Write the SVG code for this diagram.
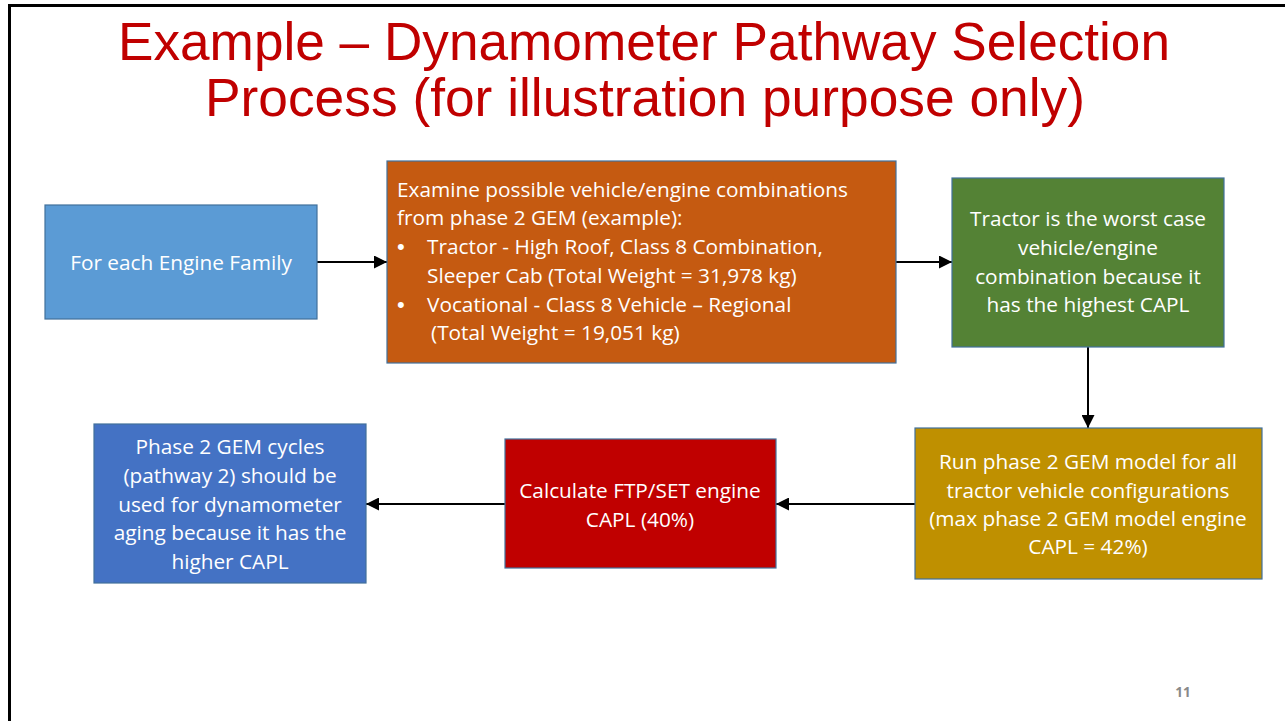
<svg xmlns="http://www.w3.org/2000/svg" width="1285" height="721" viewBox="0 0 1285 721">
<style>
.t{font-family:"Open Sans",Lato,"Liberation Sans",sans-serif;font-size:20.8px;fill:#fff}
.c{text-anchor:middle}
.b{font-family:"Liberation Sans",Arial,sans-serif;font-size:22px;fill:#fff}
.box{stroke:#41719C;stroke-width:1.2}
.title{font-family:"Liberation Sans",Arial,sans-serif;font-size:53px;fill:#C00000;text-anchor:middle}
.conn{stroke:#000;stroke-width:2;fill:none;marker-end:url(#ah)}
</style>
<defs>
<marker id="ah" viewBox="0 0 10 10" refX="10" refY="5" markerWidth="6.5" markerHeight="6.5" orient="auto" markerUnits="strokeWidth">
<path d="M0,0 L10,5 L0,10 z" fill="#000"/>
</marker>
</defs>
<rect x="0" y="0" width="1285" height="721" fill="#fff"/>
<g id="frame">
<line x1="8" y1="5.5" x2="1285" y2="5.5" stroke="#000" stroke-width="3"/>
<line x1="9.5" y1="5" x2="9.5" y2="721" stroke="#000" stroke-width="3"/>
</g>
<g id="title">
<text class="title" x="644" y="60" textLength="1052" lengthAdjust="spacingAndGlyphs">Example – Dynamometer Pathway Selection</text>
<text class="title" x="645" y="116" textLength="880" lengthAdjust="spacingAndGlyphs">Process (for illustration purpose only)</text>
</g>
<g id="connectors">
<line class="conn" x1="317" y1="262" x2="387" y2="262"/>
<line class="conn" x1="896" y1="262" x2="952" y2="262"/>
<line class="conn" x1="1088" y1="347" x2="1088" y2="428"/>
<line class="conn" x1="915" y1="504" x2="776" y2="504"/>
<line class="conn" x1="505" y1="504" x2="366" y2="504"/>
</g>
<g id="n1">
<rect class="box" x="45" y="205" width="272" height="114" fill="#5B9BD5"/>
<text class="t c" x="181" y="270">For each Engine Family</text>
</g>
<g id="n2">
<rect class="box" x="387" y="161" width="509" height="202" fill="#C55A11"/>
<text class="t" x="397" y="197">Examine possible vehicle/engine combinations</text>
<text class="t" x="397" y="225">from phase 2 GEM (example):</text>
<text class="b" x="397" y="254">•</text>
<text class="t" x="427" y="254">Tractor - High Roof, Class 8 Combination,</text>
<text class="t" x="427" y="283">Sleeper Cab (Total Weight = 31,978 kg)</text>
<text class="b" x="397" y="312">•</text>
<text class="t" x="427" y="312">Vocational - Class 8 Vehicle – Regional</text>
<text class="t" x="431" y="340">(Total Weight = 19,051 kg)</text>
</g>
<g id="n3">
<rect class="box" x="952" y="178" width="272" height="169" fill="#548235"/>
<text class="t c" x="1088" y="226">Tractor is the worst case</text>
<text class="t c" x="1088" y="255">vehicle/engine</text>
<text class="t c" x="1088" y="284">combination because it</text>
<text class="t c" x="1088" y="312">has the highest CAPL</text>
</g>
<g id="n4">
<rect class="box" x="915" y="428" width="347" height="151" fill="#BF9000"/>
<text class="t c" x="1088" y="469">Run phase 2 GEM model for all</text>
<text class="t c" x="1088" y="498">tractor vehicle configurations</text>
<text class="t c" x="1088" y="526">(max phase 2 GEM model engine</text>
<text class="t c" x="1088" y="554">CAPL = 42%)</text>
</g>
<g id="n5">
<rect class="box" x="505" y="439" width="271" height="129" fill="#C00000"/>
<text class="t c" x="640" y="498">Calculate FTP/SET engine</text>
<text class="t c" x="640" y="527">CAPL (40%)</text>
</g>
<g id="n6">
<rect class="box" x="94" y="424" width="272" height="159" fill="#4472C4"/>
<text class="t c" x="230" y="454">Phase 2 GEM cycles</text>
<text class="t c" x="230" y="483">(pathway 2) should be</text>
<text class="t c" x="230" y="512">used for dynamometer</text>
<text class="t c" x="230" y="540">aging because it has the</text>
<text class="t c" x="230" y="569">higher CAPL</text>
</g>
<g id="page">
<text x="1183" y="697" font-family="'Open Sans','Liberation Sans',sans-serif" font-size="13.5" font-weight="bold" fill="#898989" text-anchor="middle">11</text>
</g>
</svg>
